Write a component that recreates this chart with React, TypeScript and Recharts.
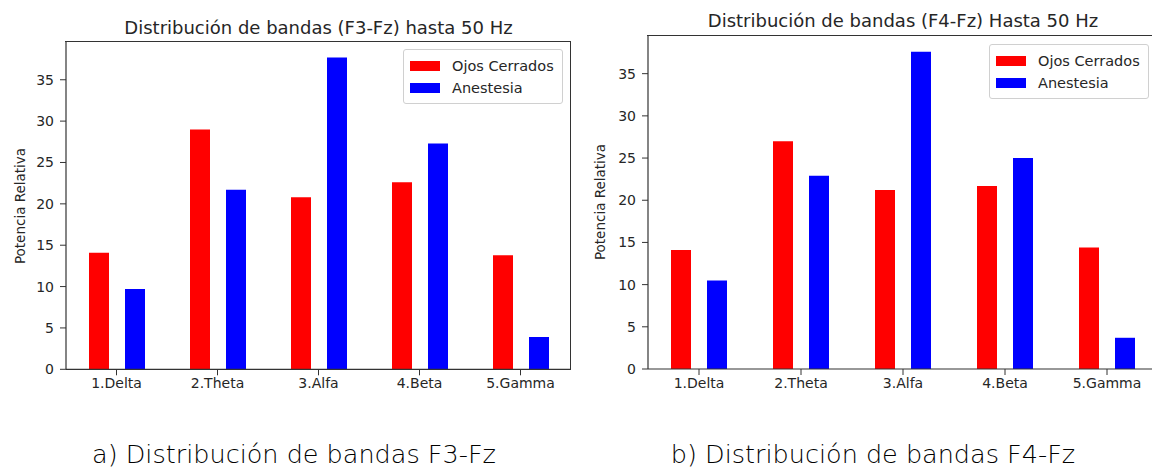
import React from 'react';
import { BarChart, Bar, XAxis, YAxis, Legend } from 'recharts';

// ---- data ----
const bands = ['1.Delta', '2.Theta', '3.Alfa', '4.Beta', '5.Gamma'];
const seriesNames = ['Ojos Cerrados', 'Anestesia'];
const f3OjosCerrados = [14.1, 29.0, 20.8, 22.6, 13.8];
const f3Anestesia = [9.7, 21.7, 37.7, 27.3, 3.9];
const f4OjosCerrados = [14.1, 27.0, 21.2, 21.7, 14.4];
const f4Anestesia = [10.5, 22.9, 37.6, 25.0, 3.7];
const yTicks = [0, 5, 10, 15, 20, 25, 30, 35];
const titles = ['Distribución de bandas (F3-Fz) hasta 50 Hz', 'Distribución de bandas (F4-Fz) Hasta 50 Hz'];
const captions = ['a) Distribución de bandas F3-Fz', 'b) Distribución de bandas F4-Fz'];
const yLabel = 'Potencia Relativa';

const RED = '#ff0000';
const BLUE = '#0000ff';
const AXIS = '#333333';
const FONT = "'DejaVu Sans', sans-serif";

const buildRows = (a: number[], b: number[]) =>
  bands.map((band, i) => ({ band, ojos: a[i], anes: b[i] }));

const LegendBox = (props: any) => {
  const payload = [...(props.payload || [])].sort(
    (a: any, b: any) => seriesNames.indexOf(a.value) - seriesNames.indexOf(b.value)
  );
  return (
    <div
      style={{
        border: '1px solid #d0d0d0',
        borderRadius: 3,
        background: '#fff',
        padding: '5px 8px 4px 6px',
        fontFamily: FONT,
        fontSize: 14.5,
        color: '#262626',
        lineHeight: '22px',
      }}
    >
      {payload.map((p: any) => (
        <div key={p.value} style={{ display: 'flex', alignItems: 'center', whiteSpace: 'nowrap' }}>
          <span style={{ display: 'inline-block', width: 30, height: 10, background: p.color, marginRight: 12 }} />
          <span>{p.value}</span>
        </div>
      ))}
    </div>
  );
};

type PanelProps = {
  left: number;
  width: number;
  yAxisWidth: number;
  marginTop: number;
  marginRight: number;
  marginBottom: number;
  yMax: number;
  rows: any[];
  title: string;
  titleCenterY: number;
  titleSize: number;
  legendLeft: number;
  legendTop: number;
  labelX: number;
};

const Panel = (p: PanelProps) => {
  const plotLeft = p.yAxisWidth;
  const plotRight = p.width - p.marginRight;
  const plotTop = p.marginTop;
  const plotBottom = 468 - p.marginBottom - 30;
  const cx = (plotLeft + plotRight) / 2;
  const cy = (plotTop + plotBottom) / 2;
  return (
    <div style={{ position: 'absolute', left: p.left, top: 0, width: p.width, height: 468 }}>
      <BarChart
        width={p.width}
        height={468}
        data={p.rows}
        margin={{ top: p.marginTop, right: p.marginRight, bottom: p.marginBottom, left: 0 }}
        barSize={20}
        barGap={16}
      >
        <XAxis
          dataKey="band"
          height={30}
          tickSize={6}
          tickMargin={3}
          interval={0}
          stroke={AXIS}
          tick={{ fill: '#262626', fontSize: 14, fontFamily: FONT }}
          axisLine={{ stroke: AXIS, strokeWidth: 1.2 }}
          tickLine={{ stroke: AXIS }}
        />
        <YAxis
          type="number"
          width={p.yAxisWidth}
          domain={[0, p.yMax]}
          ticks={yTicks}
          interval={0}
          tickSize={6}
          tickMargin={6}
          allowDataOverflow
          tick={{ fill: '#262626', fontSize: 14, fontFamily: FONT }}
          axisLine={{ stroke: AXIS, strokeWidth: 1.2 }}
          tickLine={{ stroke: AXIS }}
        />
        <Legend
          layout="vertical"
          align="center"
          verticalAlign="middle"
          content={<LegendBox />}
          wrapperStyle={{ position: 'absolute', left: p.legendLeft, top: p.legendTop, width: 'auto', height: 'auto' }}
        />
        <Bar dataKey="ojos" name={seriesNames[0]} fill={RED} isAnimationActive={false} />
        <Bar dataKey="anes" name={seriesNames[1]} fill={BLUE} isAnimationActive={false} />
      </BarChart>
      {/* axes frame (top and right spines) */}
      <div
        style={{
          position: 'absolute',
          left: plotLeft - 0.6,
          top: plotTop - 0.6,
          width: plotRight - plotLeft,
          height: plotBottom - plotTop,
          borderTop: `1.2px solid ${AXIS}`,
          borderRight: `1.2px solid ${AXIS}`,
          pointerEvents: 'none',
        }}
      />
      <div
        style={{
          position: 'absolute',
          left: cx,
          top: p.titleCenterY,
          transform: 'translate(-50%, -50%)',
          whiteSpace: 'nowrap',
          fontFamily: FONT,
          fontSize: p.titleSize,
          color: '#262626',
        }}
      >
        {p.title}
      </div>
      <div
        style={{
          position: 'absolute',
          left: p.labelX,
          top: cy,
          transform: 'translate(-50%, -50%) rotate(-90deg)',
          whiteSpace: 'nowrap',
          fontFamily: FONT,
          fontSize: 13.5,
          color: '#262626',
        }}
      >
        {yLabel}
      </div>
    </div>
  );
};

const Caption = ({ text, x }: { text: string; x: number }) => (
  <div
    style={{
      position: 'absolute',
      left: x,
      top: 454,
      transform: 'translate(-50%, -50%)',
      whiteSpace: 'nowrap',
      fontFamily: FONT,
      fontWeight: 300,
      fontSize: 25.5,
      lineHeight: '26px',
      color: '#000',
    }}
  >
    {text}
  </div>
);

export default function App() {
  const rowsA = buildRows(f3OjosCerrados, f3Anestesia);
  const rowsB = buildRows(f4OjosCerrados, f4Anestesia);
  return (
    <div
      style={{
        position: 'absolute',
        left: 0,
        top: 0,
        width: 1152,
        height: 468,
        overflow: 'hidden',
        background: '#fff',
      }}
    >
      <Panel
        left={0}
        width={580}
        yAxisWidth={66}
        marginTop={41.7}
        marginRight={9}
        marginBottom={68.7}
        yMax={39.6}
        rows={rowsA}
        title={titles[0]}
        titleCenterY={27}
        titleSize={18}
        legendLeft={403}
        legendTop={49}
        labelX={20}
      />
      <Panel
        left={576}
        width={590}
        yAxisWidth={72}
        marginTop={35.7}
        marginRight={8}
        marginBottom={69}
        yMax={39.5}
        rows={rowsB}
        title={titles[1]}
        titleCenterY={20}
        titleSize={18}
        legendLeft={413}
        legendTop={44}
        labelX={24}
      />
      <Caption text={captions[0]} x={294} />
      <Caption text={captions[1]} x={873} />
    </div>
  );
}
